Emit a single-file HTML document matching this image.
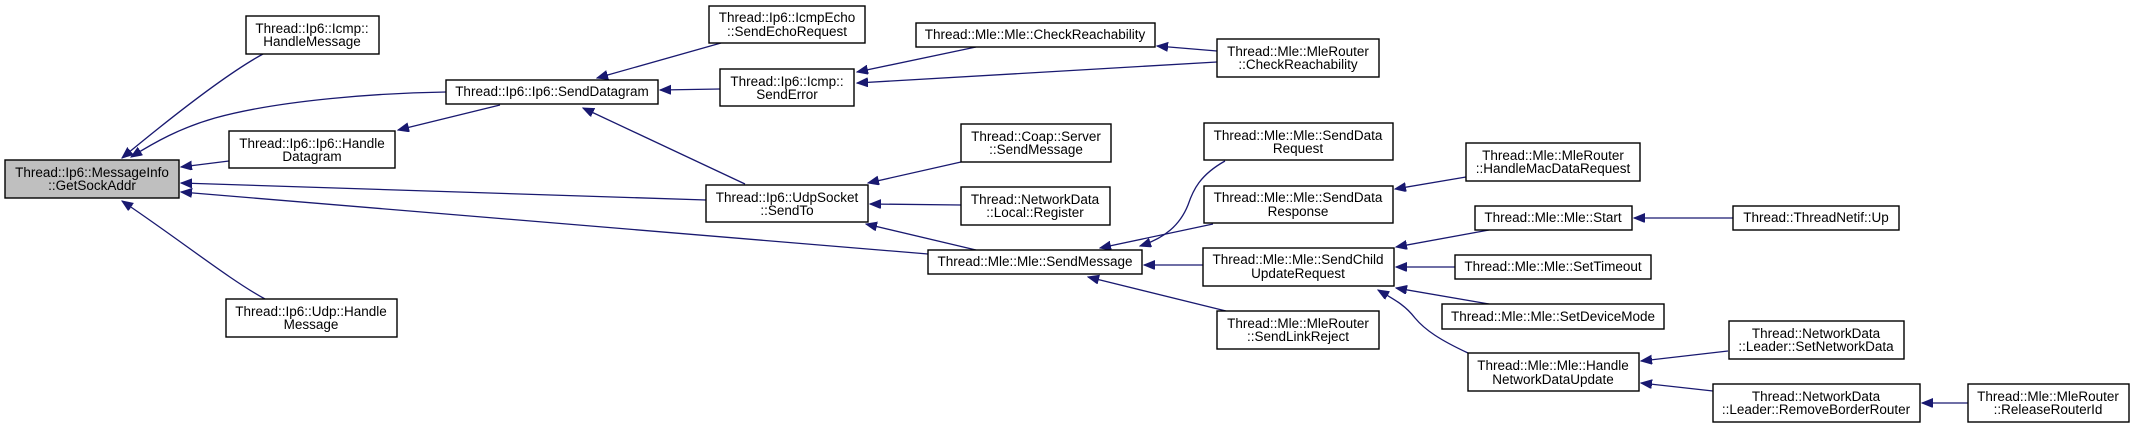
<!DOCTYPE html>
<html><head><meta charset="utf-8"><style>
html,body{margin:0;padding:0;background:#fff;}
svg{display:block;}
text{font-family:"Liberation Sans",Arial,sans-serif;font-size:13.5px;fill:#000;text-anchor:middle;}
rect{stroke:#000;stroke-width:1.4;fill:#fff;}
path.e{stroke:#191970;stroke-width:1.3;fill:none;marker-end:url(#ah);}
</style></head><body>
<svg width="2135" height="428" viewBox="0 0 2135 428" xmlns="http://www.w3.org/2000/svg">
<defs><marker id="ah" markerUnits="userSpaceOnUse" markerWidth="12" markerHeight="10" refX="11" refY="4.5" orient="auto"><path d="M0,0 L11,4.5 L0,9 z" fill="#191970" stroke="#191970"/></marker></defs>

<path class="e" d="M263,54 C230,72 180,110 122,158"/>
<path class="e" d="M446,92 C380,93 280,100 215,118 C180,128 155,142 131,157"/>
<path class="e" d="M229,161 L181,167"/>
<path class="e" d="M706,200 L181,183"/>
<path class="e" d="M928,254 L181,192"/>
<path class="e" d="M265,299 C230,280 180,240 122,201"/>
<path class="e" d="M500,105 L398,130"/>
<path class="e" d="M721,43 L597,78"/>
<path class="e" d="M720,89 L660,90"/>
<path class="e" d="M745,184 L583,108"/>
<path class="e" d="M976,47 L857,72"/>
<path class="e" d="M1217,62 L857,83"/>
<path class="e" d="M1217,51 L1157,46"/>
<path class="e" d="M961,162 L868,183"/>
<path class="e" d="M961,205 L870,204"/>
<path class="e" d="M976,250 L866,224"/>
<path class="e" d="M1225,161 C1200,175 1193,190 1188,205 C1180,225 1165,238 1140,246"/>
<path class="e" d="M1213,224 L1100,248"/>
<path class="e" d="M1203,265 L1144,265"/>
<path class="e" d="M1226,311 L1088,277"/>
<path class="e" d="M1466,177 L1395,189"/>
<path class="e" d="M1489,230 L1396,247"/>
<path class="e" d="M1455,267 L1396,267"/>
<path class="e" d="M1489,304 L1396,288"/>
<path class="e" d="M1468,353 C1440,340 1425,330 1415,318 C1405,305 1395,300 1378,290"/>
<path class="e" d="M1733,218 L1634,218"/>
<path class="e" d="M1728,351 L1641,361"/>
<path class="e" d="M1713,391 L1641,383"/>
<path class="e" d="M1968,403 L1922,403"/>

<rect x="5" y="160" width="174" height="38" style="fill:#bfbfbf"/>
<text x="92" y="177">Thread::Ip6::MessageInfo</text><text x="92" y="190">::GetSockAddr</text>

<rect x="246" y="16" width="133" height="38"/>
<text x="312" y="33">Thread::Ip6::Icmp::</text><text x="312" y="46">HandleMessage</text>

<rect x="446" y="80" width="212" height="24"/>
<text x="552" y="96">Thread::Ip6::Ip6::SendDatagram</text>

<rect x="229" y="131" width="166" height="37"/>
<text x="312" y="148">Thread::Ip6::Ip6::Handle</text><text x="312" y="161">Datagram</text>

<rect x="226" y="299" width="171" height="38"/>
<text x="311" y="316">Thread::Ip6::Udp::Handle</text><text x="311" y="329">Message</text>

<rect x="709" y="6" width="156" height="37"/>
<text x="787" y="22">Thread::Ip6::IcmpEcho</text><text x="787" y="36">::SendEchoRequest</text>

<rect x="916" y="23" width="239" height="24"/>
<text x="1035" y="39">Thread::Mle::Mle::CheckReachability</text>

<rect x="1217" y="39" width="162" height="38"/>
<text x="1298" y="56">Thread::Mle::MleRouter</text><text x="1298" y="69">::CheckReachability</text>

<rect x="720" y="69" width="134" height="37"/>
<text x="787" y="86">Thread::Ip6::Icmp::</text><text x="787" y="99">SendError</text>

<rect x="961" y="124" width="150" height="38"/>
<text x="1036" y="141">Thread::Coap::Server</text><text x="1036" y="154">::SendMessage</text>

<rect x="961" y="187" width="149" height="38"/>
<text x="1035" y="204">Thread::NetworkData</text><text x="1035" y="217">::Local::Register</text>

<rect x="706" y="185" width="162" height="37"/>
<text x="787" y="202">Thread::Ip6::UdpSocket</text><text x="787" y="215">::SendTo</text>

<rect x="928" y="250" width="214" height="24"/>
<text x="1035" y="266">Thread::Mle::Mle::SendMessage</text>

<rect x="1204" y="123" width="189" height="37"/>
<text x="1298" y="140">Thread::Mle::Mle::SendData</text><text x="1298" y="153">Request</text>

<rect x="1204" y="186" width="189" height="37"/>
<text x="1298" y="202">Thread::Mle::Mle::SendData</text><text x="1298" y="216">Response</text>

<rect x="1203" y="248" width="191" height="38"/>
<text x="1298" y="264">Thread::Mle::Mle::SendChild</text><text x="1298" y="278">UpdateRequest</text>

<rect x="1217" y="311" width="162" height="38"/>
<text x="1298" y="328">Thread::Mle::MleRouter</text><text x="1298" y="341">::SendLinkReject</text>

<rect x="1466" y="143" width="174" height="38"/>
<text x="1553" y="160">Thread::Mle::MleRouter</text><text x="1553" y="173">::HandleMacDataRequest</text>

<rect x="1475" y="206" width="157" height="24"/>
<text x="1553" y="222">Thread::Mle::Mle::Start</text>

<rect x="1455" y="255" width="196" height="24"/>
<text x="1553" y="271">Thread::Mle::Mle::SetTimeout</text>

<rect x="1442" y="304" width="222" height="25"/>
<text x="1553" y="321">Thread::Mle::Mle::SetDeviceMode</text>

<rect x="1468" y="353" width="171" height="38"/>
<text x="1553" y="370">Thread::Mle::Mle::Handle</text><text x="1553" y="384">NetworkDataUpdate</text>

<rect x="1733" y="206" width="166" height="24"/>
<text x="1816" y="222">Thread::ThreadNetif::Up</text>

<rect x="1729" y="321" width="175" height="38"/>
<text x="1816" y="338">Thread::NetworkData</text><text x="1816" y="351">::Leader::SetNetworkData</text>

<rect x="1713" y="384" width="207" height="38"/>
<text x="1816" y="401">Thread::NetworkData</text><text x="1816" y="414">::Leader::RemoveBorderRouter</text>

<rect x="1968" y="384" width="161" height="38"/>
<text x="2048" y="401">Thread::Mle::MleRouter</text><text x="2048" y="414">::ReleaseRouterId</text>
</svg>
</body></html>
